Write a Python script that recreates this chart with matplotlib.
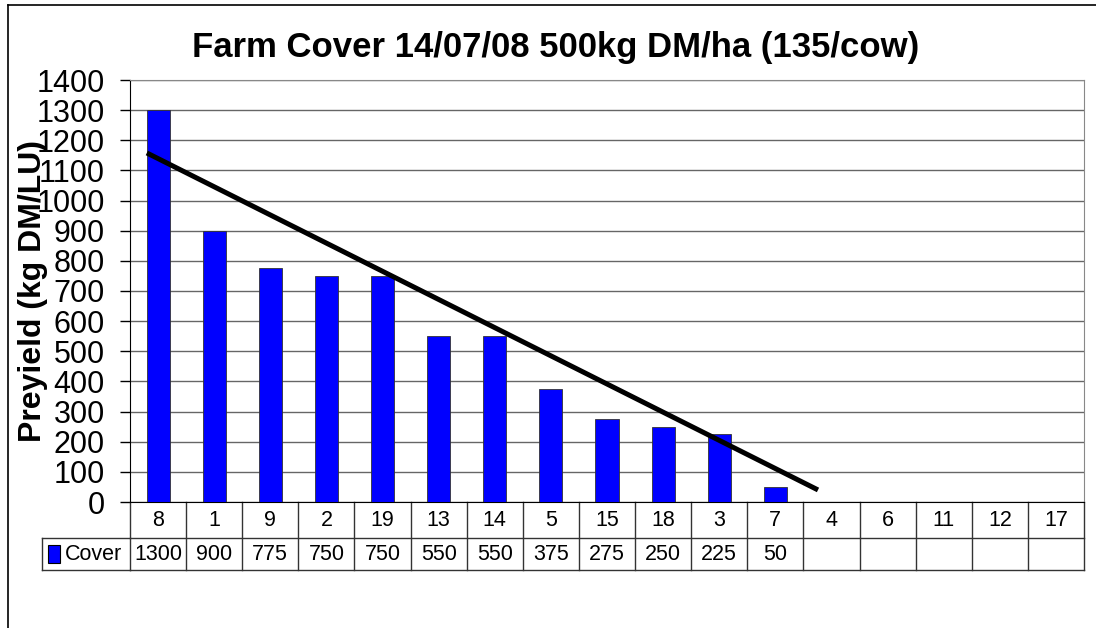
import matplotlib
matplotlib.use('Agg')
import matplotlib.pyplot as plt
from matplotlib.patches import Rectangle
from matplotlib.transforms import blended_transform_factory
import numpy as np

plt.rcParams['font.family'] = ['Liberation Sans', 'DejaVu Sans']

# paddock order and cover values (blank = no cover)
paddocks = ['8', '1', '9', '2', '19', '13', '14', '5', '15', '18', '3', '7', '4', '6', '11', '12', '17']
cover = [1300, 900, 775, 750, 750, 550, 550, 375, 275, 250, 225, 50, None, None, None, None, None]

# hand drawn wedge line (position in categories, value)
wedge_pos = [-0.2, 11.76]
wedge_val = [1158, 40]

W, H = 1096, 628
fig = plt.figure(figsize=(W / 100, H / 100), dpi=100)

# plot area in pixels
left, right, top, bottom = 130, 1084, 80, 502
ax = fig.add_axes([left / W, 1 - bottom / H, (right - left) / W, (bottom - top) / H])

x = np.arange(len(paddocks))
vals = [v if v is not None else 0 for v in cover]
ax.bar(x, vals, width=0.41, color='#0000ff', edgecolor='#333333', linewidth=0.6, zorder=3)
ax.plot(wedge_pos, wedge_val, color='black', linewidth=3.6, solid_capstyle='butt', zorder=4)

ax.set_xlim(-0.5, len(paddocks) - 0.5)
ax.set_ylim(0, 1400)
ax.set_yticks(range(0, 1401, 100))
ax.tick_params(axis='y', labelsize=22, length=7, width=1, direction='out', pad=11)
ax.set_xticks([])
ax.yaxis.grid(True, color='#666666', linewidth=1)
ax.set_axisbelow(True)
for s in ['top', 'right', 'bottom']:
    ax.spines[s].set_color('#888888')
ax.spines['left'].set_color('black')
ax.spines['bottom'].set_color('black')

ax.set_ylabel('Preyield (kg DM/LU)', fontsize=23, fontweight='bold')
ax.yaxis.set_label_coords(-(left - 33) / (right - left), 0.5)
ax.yaxis.label.set_va('center')

fig.text(556 / W, 1 - 47 / H, 'Farm Cover 14/07/08 500kg DM/ha (135/cow)',
         ha='center', va='center', fontsize=25, fontweight='bold')

# data table under the plot
tr = blended_transform_factory(ax.transData, fig.transFigure)
ph = 1.0 / H
row1_top, row1_bot, row2_bot = 502, 538, 570
lc = '#333333'
n = len(paddocks)
# horizontal lines
ax.plot([-0.5, n - 0.5], [1 - row1_bot * ph] * 2, color=lc, lw=1, transform=tr, clip_on=False)
ax.plot([-0.5, n - 0.5], [1 - row2_bot * ph] * 2, color=lc, lw=1, transform=tr, clip_on=False)
for i in range(n + 1):
    ax.plot([i - 0.5, i - 0.5], [1 - row1_top * ph, 1 - row2_bot * ph], color=lc, lw=1,
            transform=tr, clip_on=False)
for i, p in enumerate(paddocks):
    ax.text(i, 1 - (row1_top + row1_bot) / 2 * ph, p, transform=tr, ha='center', va='center', fontsize=15.5)
    if cover[i] is not None:
        ax.text(i, 1 - (row1_bot + row2_bot) / 2 * ph, str(cover[i]), transform=tr,
                ha='center', va='center', fontsize=15.5)

# series label cell
fig.add_artist(plt.Line2D([42 / W, left / W], [1 - row1_bot * ph] * 2, color=lc, lw=1))
fig.add_artist(plt.Line2D([42 / W, left / W], [1 - row2_bot * ph] * 2, color=lc, lw=1))
fig.add_artist(plt.Line2D([42 / W, 42 / W], [1 - row1_bot * ph, 1 - row2_bot * ph], color=lc, lw=1))
fig.add_artist(Rectangle((48 / W, 1 - 563 * ph), 12 / W, 18 * ph, facecolor='#0000ff',
                         edgecolor='black', lw=0.8, transform=fig.transFigure))
fig.text(65 / W, 1 - 554 * ph, 'Cover', ha='left', va='center', fontsize=15.5)

# chart area border
fig.add_artist(plt.Line2D([8 / W, 8 / W], [0, 1 - 5 * ph], color='black', lw=1.2))
fig.add_artist(plt.Line2D([8 / W, 1], [1 - 5 * ph, 1 - 5 * ph], color='black', lw=1.2))

fig.savefig('out.png', dpi=100)
